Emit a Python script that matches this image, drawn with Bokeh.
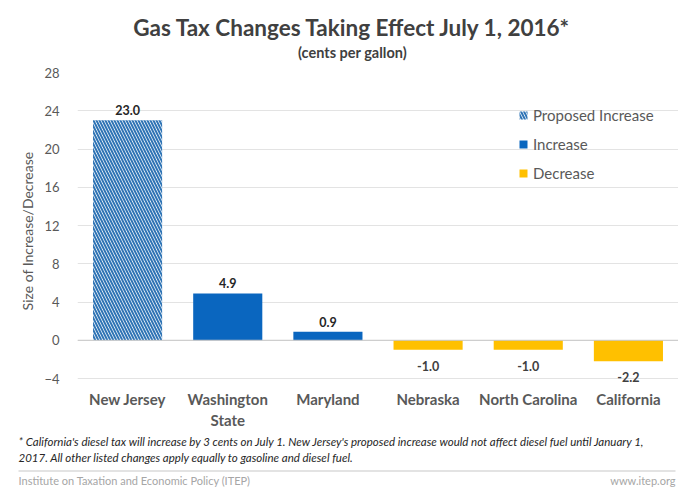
from bokeh.plotting import figure
from bokeh.layouts import column, row
from bokeh.models import (ColumnDataSource, Range1d, FactorRange, FixedTicker,
                          LabelSet, Legend, LegendItem, Span)
from bokeh.core.properties import value
from bokeh.embed import file_html
from bokeh.resources import INLINE

# ---- data ----
states = ["New Jersey", "Washington\nState", "Maryland", "Nebraska", "North Carolina", "California"]
changes = [23.0, 4.9, 0.9, -1.0, -1.0, -2.2]
kinds = ["Proposed Increase", "Increase", "Increase", "Decrease", "Decrease", "Decrease"]
y_ticks = [-4, 0, 4, 8, 12, 16, 20, 24, 28]

title_text = "Gas Tax Changes Taking Effect July 1, 2016*"
subtitle_text = "(cents per gallon)"
y_label = "Size of Increase/Decrease"
footnote1 = ("* California's diesel tax will increase by 3 cents on July 1.  New Jersey's proposed "
             "increase would not affect diesel fuel until January 1,")
footnote2 = "2017.  All other listed changes apply equally to gasoline and diesel fuel."
source_text = "Institute on Taxation and Economic Policy (ITEP)"
site_text = "www.itep.org"

BLUE = "#0A66BF"
YELLOW = "#FFC000"
FONT = "Lato"
W = 678
H_HEAD, H_MAIN, H_FOOT = 64, 368, 55


def blank(height):
    f = figure(width=W, height=height, x_range=Range1d(0, W), y_range=Range1d(height, 0),
               output_backend="svg", toolbar_location=None, title=None,
               min_border=0, min_border_left=0, min_border_right=0,
               min_border_top=0, min_border_bottom=0)
    f.axis.visible = False
    f.grid.visible = False
    f.outline_line_color = None
    f.background_fill_color = "white"
    f.border_fill_color = "white"
    return f


# ---- header ----
head = blank(H_HEAD)
head.text(x=[352], y=[27], text=[title_text], text_align="center", text_baseline="middle",
          text_font=value(FONT), text_font_style="bold", text_font_size="22.5px",
          text_color="#404040")
head.text(x=[352], y=[52], text=[subtitle_text], text_align="center", text_baseline="middle",
          text_font=value(FONT), text_font_style="bold", text_font_size="14.5px",
          text_color="#404040")

# ---- main chart ----
p = figure(width=W, height=H_MAIN, x_range=FactorRange(*states), y_range=Range1d(-5.15, 28),
           output_backend="svg", toolbar_location=None, title=None,
           min_border_left=77, min_border_right=0, min_border_top=8, min_border_bottom=43)
p.outline_line_color = None
p.background_fill_color = "white"
p.border_fill_color = "white"

p.yaxis.ticker = FixedTicker(ticks=y_ticks)
p.yaxis.axis_line_color = None
p.yaxis.major_tick_line_color = None
p.yaxis.major_tick_out = 0
p.yaxis.major_tick_in = 0
p.yaxis.minor_tick_line_color = None
p.yaxis.major_label_text_font = FONT
p.yaxis.major_label_text_font_size = "13px"
p.yaxis.major_label_text_color = "#595959"
p.yaxis.major_label_standoff = 18
p.yaxis.axis_label = y_label
p.yaxis.axis_label_text_font = FONT
p.yaxis.axis_label_text_font_style = "normal"
p.yaxis.axis_label_text_font_size = "14px"
p.yaxis.axis_label_text_color = "#595959"
p.yaxis.axis_label_standoff = 5

p.xaxis.axis_line_color = None
p.xaxis.major_tick_line_color = None
p.xaxis.major_tick_out = 0
p.xaxis.major_tick_in = 0
p.xaxis.minor_tick_line_color = None
p.xaxis.major_label_text_font = FONT
p.xaxis.major_label_text_font_style = "bold"
p.xaxis.major_label_text_font_size = "15px"
p.xaxis.major_label_text_color = "#595959"
p.xaxis.major_label_standoff = 0

p.xgrid.grid_line_color = None
p.ygrid.grid_line_color = "#e3e3e3"
p.ygrid.grid_line_width = 1
p.add_layout(Span(location=0, dimension="width", line_color="#c8c8c8", line_width=1))


def sub(kind):
    xs = [s for s, k in zip(states, kinds) if k == kind]
    ys = [v for v, k in zip(changes, kinds) if k == kind]
    return ColumnDataSource(dict(x=xs, top=ys))


r_prop = p.vbar(x="x", top="top", bottom=0, width=0.69, source=sub("Proposed Increase"),
                fill_color="white", line_color=None, hatch_pattern="\\",
                hatch_color="#2F74B5", hatch_scale=6, hatch_weight=2)
r_inc = p.vbar(x="x", top="top", bottom=0, width=0.69, source=sub("Increase"),
               fill_color=BLUE, line_color=None)
r_dec = p.vbar(x="x", top="top", bottom=0, width=0.69, source=sub("Decrease"),
               fill_color=YELLOW, line_color=None)

pos = ColumnDataSource(dict(x=[s for s, v in zip(states, changes) if v >= 0],
                            y=[v for v in changes if v >= 0],
                            t=[f"{v:.1f}" for v in changes if v >= 0]))
neg = ColumnDataSource(dict(x=[s for s, v in zip(states, changes) if v < 0],
                            y=[v for v in changes if v < 0],
                            t=[f"{v:.1f}" for v in changes if v < 0]))
p.add_layout(LabelSet(x="x", y="y", text="t", source=pos, text_align="center",
                      text_baseline="bottom", y_offset=5, text_font=value(FONT),
                      text_font_style="bold", text_font_size="12.5px", text_color="#262626"))
p.add_layout(LabelSet(x="x", y="y", text="t", source=neg, text_align="center",
                      text_baseline="top", y_offset=-11, text_font=value(FONT),
                      text_font_style="bold", text_font_size="12.5px", text_color="#404040"))

legend = Legend(items=[LegendItem(label="Proposed Increase", renderers=[r_prop]),
                       LegendItem(label="Increase", renderers=[r_inc]),
                       LegendItem(label="Decrease", renderers=[r_dec])],
                location=(441, 207), border_line_color=None, background_fill_alpha=0,
                padding=0, margin=0, glyph_width=10, glyph_height=10, label_standoff=5,
                label_height=18, spacing=11, label_text_font=FONT,
                label_text_font_size="15px", label_text_color="#595959")
p.add_layout(legend)

# ---- footer ----
foot = blank(H_FOOT)
foot.text(x=[18], y=[9], text=[footnote1], text_align="left", text_baseline="middle",
          text_font=value(FONT), text_font_style="italic", text_font_size="11.5px",
          text_color="#262626")
foot.text(x=[18], y=[25], text=[footnote2], text_align="left", text_baseline="middle",
          text_font=value(FONT), text_font_style="italic", text_font_size="11.5px",
          text_color="#262626")
foot.segment(x0=[18], y0=[38.5], x1=[675], y1=[38.5], line_color="#c8c8c8", line_width=1.2)
foot.text(x=[18], y=[48], text=[source_text], text_align="left", text_baseline="middle",
          text_font=value(FONT), text_font_size="11px", text_color="#a6a6a6")
foot.text(x=[675], y=[48], text=[site_text], text_align="right", text_baseline="middle",
          text_font=value(FONT), text_font_size="11px", text_color="#a6a6a6")

layout = column(head, row(p), foot, spacing=0)
open("out.html", "w").write(file_html(layout, INLINE))
